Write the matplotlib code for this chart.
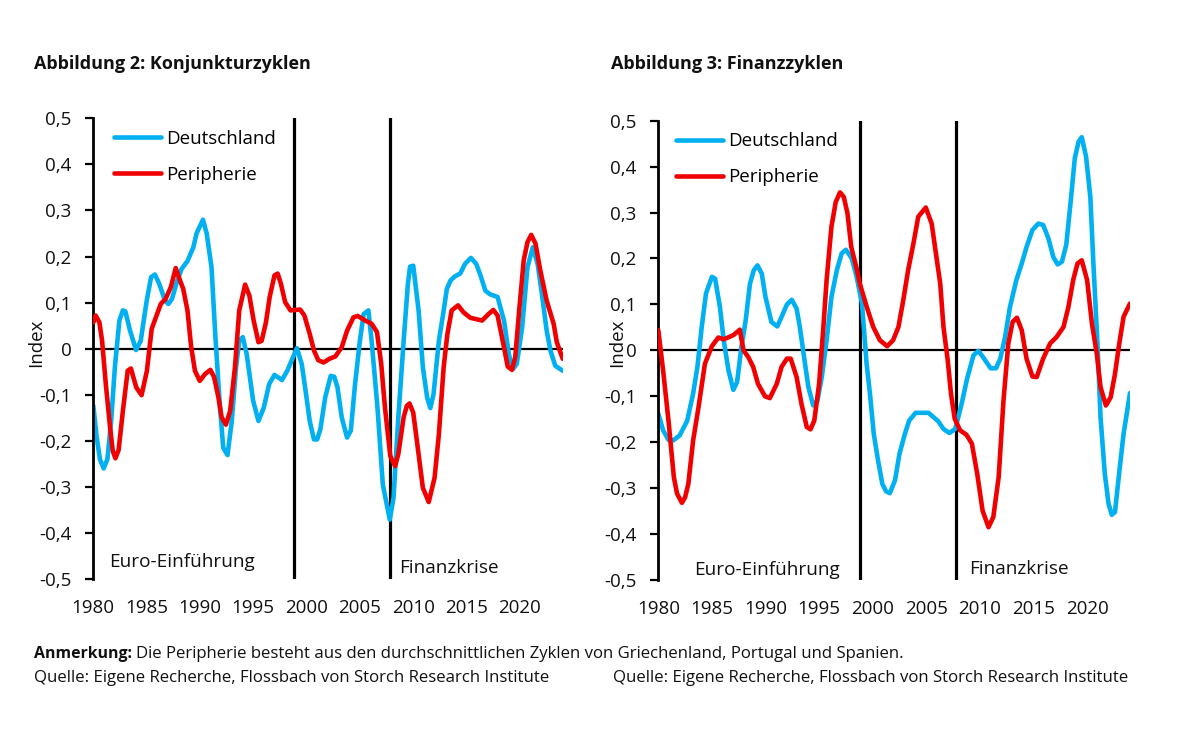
import matplotlib
matplotlib.use("Agg")
import matplotlib.pyplot as plt

W, H = 1187, 751
BLUE = "#00B0F0"
RED = "#F00000"
FONT = "Open Sans"

plt.rcParams["font.family"] = FONT

year_ticks = [1980, 1985, 1990, 1995, 2000, 2005, 2010, 2015, 2020]
value_ticks = [-0.5, -0.4, -0.3, -0.2, -0.1, 0, 0.1, 0.2, 0.3, 0.4, 0.5]
value_labels = ["-0,5", "-0,4", "-0,3", "-0,2", "-0,1", "0", "0,1", "0,2", "0,3", "0,4", "0,5"]
event_years = [1998.8, 2007.8]

# Abbildung 2: Konjunkturzyklen
konj_de_x = [1980.03, 1980.35, 1980.65, 1981.0, 1981.35, 1981.7, 1982.05, 1982.47, 1982.8, 1983.03, 1983.47,
             1984.03, 1984.47, 1985.03, 1985.44, 1985.8, 1986.2, 1986.75, 1987.06, 1987.4, 1987.85, 1988.3,
             1988.85, 1989.4, 1989.7, 1990.3, 1990.65, 1991.1, 1991.45, 1991.85, 1992.2, 1992.6, 1993.0,
             1993.4, 1993.7, 1994.03, 1994.4, 1995.0, 1995.5, 1996.0, 1996.5, 1997.0, 1997.7, 1998.2, 1999.1,
             1999.55, 1999.96, 2000.3, 2000.7, 2001.0, 2001.3, 2001.75, 2002.27, 2002.6, 2002.9, 2003.3,
             2003.8, 2004.15, 2004.55, 2005.0, 2005.35, 2005.8, 2006.1, 2006.65, 2007.15, 2007.8, 2008.15,
             2008.6, 2009.1, 2009.5, 2009.7, 2010.0, 2010.5, 2010.9, 2011.3, 2011.6, 2011.9, 2012.4, 2012.8,
             2013.15, 2013.5, 2013.9, 2014.4, 2014.85, 2015.4, 2015.9, 2016.3, 2016.75, 2017.2, 2017.9,
             2018.5, 2018.95, 2019.35, 2019.7, 2020.2, 2020.7, 2021.2, 2021.65, 2022.05, 2022.5, 2022.85,
             2023.3, 2024.0]
konj_de_y = [-0.124, -0.193, -0.24, -0.26, -0.24, -0.157, -0.04, 0.061, 0.083, 0.081, 0.039,
             -0.003, 0.017, 0.104, 0.155, 0.161, 0.141, 0.104, 0.097, 0.108, 0.144, 0.173,
             0.19, 0.22, 0.25, 0.28, 0.25, 0.177, 0.032, -0.113, -0.215, -0.231, -0.157,
             -0.04, 0.017, 0.025, -0.012, -0.113, -0.157, -0.128, -0.077, -0.057, -0.068, -0.048, 0.001,
             -0.033, -0.099, -0.157, -0.197, -0.197, -0.175, -0.106, -0.059, -0.061, -0.084, -0.149,
             -0.193, -0.178, -0.077, 0.017, 0.075, 0.083, 0.017, -0.128, -0.295, -0.371, -0.324,
             -0.15, 0.017, 0.141, 0.178, 0.18, 0.083, -0.04, -0.106, -0.129, -0.099, 0.017, 0.075,
             0.13, 0.148, 0.157, 0.163, 0.184, 0.197, 0.184, 0.159, 0.126, 0.118, 0.112,
             0.061, -0.012, -0.044, -0.033, 0.046, 0.177, 0.22, 0.184, 0.119, 0.039, -0.004,
             -0.037, -0.048]

konj_pe_x = [1980.03, 1980.25, 1980.6, 1980.85, 1981.2, 1981.6, 1981.85, 1982.1, 1982.4, 1982.8, 1983.25,
             1983.55, 1984.05, 1984.55, 1985.05, 1985.5, 1986.0, 1986.35, 1986.8, 1987.3, 1987.75, 1988.15,
             1988.45, 1988.85, 1989.2, 1989.55, 1990.0, 1990.5, 1991.0, 1991.35, 1991.75, 1992.05, 1992.45,
             1992.85, 1993.3, 1993.7, 1994.25, 1994.65, 1995.05, 1995.5, 1995.8, 1996.2, 1996.55, 1997.0,
             1997.3, 1997.6, 1998.0, 1998.5, 1999.4, 1999.8, 2000.3, 2000.7, 2001.1, 2001.6, 2002.15,
             2002.7, 2003.3, 2003.8, 2004.4, 2004.8, 2005.5, 2006.1, 2006.6, 2007.0, 2007.35, 2007.85,
             2008.3, 2008.6, 2009.1, 2009.4, 2009.65, 2010.0, 2010.5, 2010.9, 2011.45, 2012.0, 2012.4,
             2012.85, 2013.2, 2013.6, 2014.2, 2014.7, 2015.35, 2016.45, 2017.05, 2017.5, 2017.9, 2018.5,
             2018.85, 2019.25, 2019.55, 2019.95, 2020.35, 2020.7, 2021.05, 2021.45, 2021.9, 2022.5, 2023.15,
             2023.45, 2024.0]
konj_pe_y = [0.057, 0.072, 0.057, 0.017, -0.077, -0.171, -0.222, -0.238, -0.22, -0.135, -0.048,
             -0.043, -0.084, -0.101, -0.048, 0.043, 0.075, 0.097, 0.108, 0.134, 0.175, 0.148,
             0.13, 0.083, 0.003, -0.048, -0.07, -0.055, -0.046, -0.062, -0.106, -0.149, -0.165,
             -0.135, -0.04, 0.083, 0.139, 0.115, 0.061, 0.014, 0.017, 0.057, 0.112, 0.159,
             0.163, 0.141, 0.101, 0.083, 0.085, 0.072, 0.032, -0.004, -0.025, -0.03, -0.022,
             -0.017, 0.003, 0.039, 0.068, 0.071, 0.061, 0.054, 0.036, -0.033, -0.128, -0.233,
             -0.255, -0.229, -0.149, -0.124, -0.119, -0.139, -0.229, -0.302, -0.333, -0.28, -0.186,
             -0.04, 0.032, 0.083, 0.094, 0.079, 0.067, 0.061, 0.075, 0.084, 0.072, 0.003,
             -0.039, -0.046, -0.019, 0.09, 0.192, 0.231, 0.247, 0.228, 0.17, 0.104, 0.054,
             0.014, -0.022]

# Abbildung 3: Finanzzyklen
fin_de_x = [1980.0, 1980.45, 1980.95, 1981.4, 1982.0, 1982.7, 1983.25, 1983.65, 1984.05, 1984.45, 1985.0,
            1985.3, 1985.75, 1986.1, 1986.55, 1987.0, 1987.35, 1987.75, 1988.15, 1988.55, 1988.9, 1989.25,
            1989.65, 1990.0, 1990.55, 1991.1, 1991.5, 1992.0, 1992.45, 1992.9, 1993.2, 1993.6, 1994.0,
            1994.45, 1994.85, 1995.25, 1995.7, 1996.15, 1996.65, 1997.1, 1997.5, 1998.05, 1998.5, 1999.0,
            1999.43, 1999.74, 2000.1, 2000.5, 2000.9, 2001.25, 2001.6, 2002.08, 2002.5, 2003.0, 2003.4,
            2004.0, 2005.2, 2006.1, 2006.6, 2007.15, 2007.7, 2008.3, 2008.8, 2009.4, 2009.85, 2010.3,
            2011.0, 2011.5, 2011.9, 2012.35, 2012.8, 2013.4, 2013.9, 2014.35, 2014.9, 2015.45, 2015.9,
            2016.4, 2016.85, 2017.25, 2017.65, 2018.05, 2018.45, 2018.85, 2019.2, 2019.5, 2019.9, 2020.3,
            2020.6, 2020.95, 2021.25, 2021.65, 2022.0, 2022.3, 2022.6, 2023.05, 2023.4, 2024.0]
fin_de_y = [-0.138, -0.174, -0.195, -0.196, -0.185, -0.153, -0.094, -0.036, 0.051, 0.124, 0.16,
            0.156, 0.094, 0.022, -0.044, -0.086, -0.069, 0.007, 0.065, 0.145, 0.174, 0.185,
            0.167, 0.116, 0.062, 0.052, 0.073, 0.1, 0.11, 0.091, 0.051, -0.015, -0.08,
            -0.12, -0.109, -0.058, 0.022, 0.116, 0.174, 0.211, 0.219, 0.2, 0.16, 0.102,
            -0.029, -0.094, -0.182, -0.24, -0.291, -0.307, -0.311, -0.283, -0.225, -0.182, -0.153,
            -0.136, -0.136, -0.154, -0.171, -0.18, -0.171, -0.116, -0.062, -0.011, -0.001, -0.015,
            -0.039, -0.039, -0.018, 0.029, 0.094, 0.153, 0.189, 0.225, 0.262, 0.276, 0.273,
            0.243, 0.203, 0.187, 0.193, 0.229, 0.32, 0.418, 0.454, 0.464, 0.422, 0.334,
            0.182, 0.022, -0.145, -0.269, -0.334, -0.358, -0.352, -0.254, -0.182, -0.093]

fin_pe_x = [1980.0, 1980.45, 1980.95, 1981.45, 1981.75, 1982.2, 1982.5, 1982.8, 1983.25, 1983.75, 1984.35,
            1985.0, 1985.6, 1986.1, 1987.0, 1987.6, 1987.95, 1988.4, 1988.85, 1989.3, 1989.95, 1990.4,
            1991.05, 1991.5, 1992.0, 1992.35, 1992.9, 1993.35, 1993.85, 1994.2, 1994.55, 1995.0, 1995.4,
            1995.7, 1996.15, 1996.55, 1996.95, 1997.3, 1997.65, 1998.0, 1998.5, 1998.8, 1999.45, 2000.05,
            2000.67, 2001.35, 2001.9, 2002.4, 2002.85, 2003.3, 2003.8, 2004.25, 2004.95, 2005.5, 2006.3,
            2006.6, 2007.0, 2007.3, 2007.65, 2008.15, 2008.75, 2009.25, 2009.75, 2010.25, 2010.8, 2011.25,
            2011.75, 2012.2, 2012.65, 2013.05, 2013.45, 2013.9, 2014.35, 2014.9, 2015.3, 2015.9, 2016.55,
            2017.15, 2017.8, 2018.25, 2018.7, 2019.1, 2019.5, 2020.0, 2020.45, 2020.9, 2021.25, 2021.75,
            2022.2, 2022.6, 2023.0, 2023.4, 2024.0]
fin_pe_y = [0.044, -0.044, -0.153, -0.276, -0.312, -0.332, -0.32, -0.291, -0.196, -0.124, -0.029,
            0.009, 0.028, 0.024, 0.033, 0.045, 0.0, -0.015, -0.036, -0.073, -0.1, -0.104,
            -0.073, -0.036, -0.018, -0.018, -0.058, -0.116, -0.167, -0.172, -0.153, -0.073, 0.051,
            0.153, 0.269, 0.323, 0.344, 0.334, 0.298, 0.225, 0.178, 0.145, 0.094, 0.051,
            0.022, 0.009, 0.022, 0.051, 0.109, 0.174, 0.233, 0.291, 0.311, 0.276, 0.145,
            0.051, -0.022, -0.094, -0.149, -0.174, -0.184, -0.203, -0.269, -0.349, -0.385, -0.363,
            -0.276, -0.109, 0.015, 0.062, 0.071, 0.044, -0.018, -0.057, -0.058, -0.018, 0.015,
            0.029, 0.051, 0.094, 0.153, 0.189, 0.196, 0.153, 0.058, -0.007, -0.08, -0.12,
            -0.102, -0.051, 0.015, 0.073, 0.102]


def px_axes(fig, left, top, right, bottom):
    return fig.add_axes([left / W, 1 - bottom / H, (right - left) / W, (bottom - top) / H])


def px_text(fig, x, y, s, **kw):
    kw.setdefault("va", "center")
    kw.setdefault("fontsize", 12.95)
    kw.setdefault("color", "#111111")
    fig.text(x / W, 1 - y / H, s, **kw)


def draw_panel(ax, de_x, de_y, pe_x, pe_y, legend_anchor):
    for yr in event_years:
        ax.axvline(yr, color="black", lw=2.3, zorder=1)
    ax.axhline(0, color="black", lw=1.6, zorder=1)
    ax.plot(de_x, de_y, color=BLUE, lw=3.3, label="Deutschland", zorder=2,
            solid_joinstyle="round", solid_capstyle="round")
    ax.plot(pe_x, pe_y, color=RED, lw=3.3, label="Peripherie", zorder=3,
            solid_joinstyle="round", solid_capstyle="round")

    ax.set_xlim(1980, 2024)
    ax.set_ylim(-0.5, 0.5)
    ax.set_xticks(year_ticks)
    ax.set_yticks(value_ticks)
    ax.set_yticklabels(value_labels)
    ax.tick_params(axis="x", length=0, labelsize=13.5, pad=14.3, colors="#111111")
    ax.tick_params(axis="y", length=6, width=1.6, labelsize=13.5, pad=9.6, colors="#111111")
    ax.tick_params(axis="y", color="black")
    for side in ["top", "right", "bottom"]:
        ax.spines[side].set_visible(False)
    ax.spines["left"].set_linewidth(2.0)

    ax.legend(loc="upper left", bbox_to_anchor=legend_anchor, frameon=False, fontsize=13.5,
              handlelength=2.5, handletextpad=0.29, labelspacing=0.97, borderaxespad=0, borderpad=0)


fig = plt.figure(figsize=(W / 100, H / 100), dpi=100, facecolor="white")

ax_left = px_axes(fig, 93, 118.3, 562.7, 579)
draw_panel(ax_left, konj_de_x, konj_de_y, konj_pe_x, konj_pe_y, (0.044, 0.975))

ax_right = px_axes(fig, 658.3, 120.7, 1130, 580)
draw_panel(ax_right, fin_de_x, fin_de_y, fin_pe_x, fin_pe_y, (0.038, 0.975))

px_text(fig, 34, 64, "Abbildung 2: Konjunkturzyklen", fontweight="bold")
px_text(fig, 611, 64, "Abbildung 3: Finanzzyklen", fontweight="bold")

px_text(fig, 36, 343, "Index", rotation=90, ha="center", fontsize=13.5)
px_text(fig, 617, 343, "Index", rotation=90, ha="center", fontsize=13.5)

px_text(fig, 109, 562, "Euro-Einführung", fontsize=13.65)
px_text(fig, 694, 570, "Euro-Einführung", fontsize=13.65)
px_text(fig, 399, 568, "Finanzkrise", fontsize=13.6)
px_text(fig, 969, 569, "Finanzkrise", fontsize=13.6)

px_text(fig, 34, 654, "Anmerkung:", fontweight="bold", fontsize=11.4)
px_text(fig, 136, 654, "Die Peripherie besteht aus den durchschnittlichen Zyklen von Griechenland, Portugal und Spanien.",
        fontsize=12.05)
px_text(fig, 34, 678, "Quelle: Eigene Recherche, Flossbach von Storch Research Institute", fontsize=12.1)
px_text(fig, 613, 678, "Quelle: Eigene Recherche, Flossbach von Storch Research Institute", fontsize=12.1)

fig.savefig("out.png", dpi=100)
